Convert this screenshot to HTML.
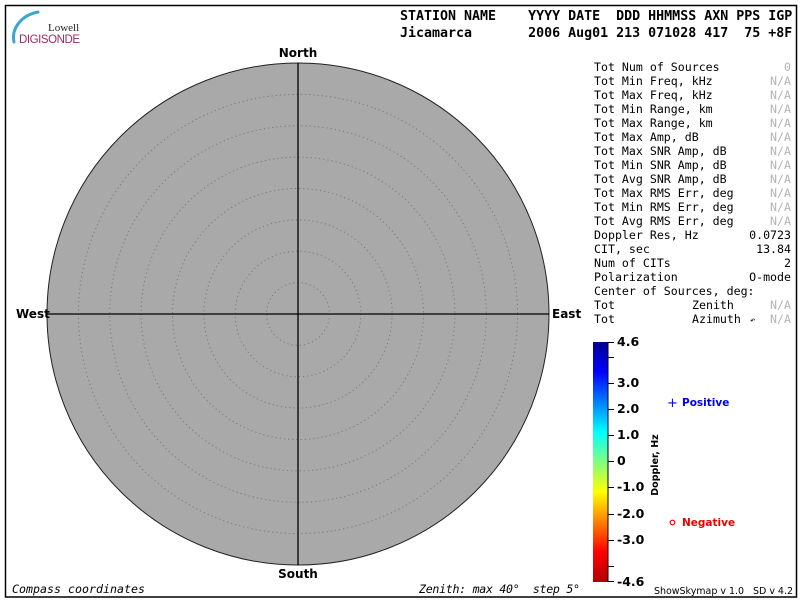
<!DOCTYPE html>
<html><head><meta charset="utf-8"><style>
html,body{margin:0;padding:0;background:#fff;}
svg{display:block;}
.mono{font-family:"DejaVu Sans Mono","Liberation Mono",monospace;}
.sans{font-family:"DejaVu Sans","Liberation Sans",sans-serif;}
</style></head><body>
<svg width="800" height="600" viewBox="0 0 800 600" xmlns="http://www.w3.org/2000/svg">
<defs>
<linearGradient id="jet" x1="0" y1="0" x2="0" y2="1">
<stop offset="0" stop-color="#00008f"/>
<stop offset="0.125" stop-color="#0000ff"/>
<stop offset="0.375" stop-color="#00ffff"/>
<stop offset="0.625" stop-color="#ffff00"/>
<stop offset="0.875" stop-color="#ff0000"/>
<stop offset="1" stop-color="#b00000"/>
</linearGradient>
</defs>
<rect x="0" y="0" width="800" height="600" fill="#fff"/>
<rect x="5.5" y="5.5" width="791" height="591.5" fill="none" stroke="#000" stroke-width="1.5"/>

<!-- logo -->
<path d="M14,42 C11,28 22,15 38,12" fill="none" stroke="#3aa7d0" stroke-width="3" stroke-linecap="round"/>
<text x="48" y="31" font-family="Liberation Serif, serif" font-size="11" fill="#222">Lowell</text>
<text x="19" y="43" font-family="Liberation Sans, sans-serif" font-size="11.5" fill="#9b2a5e" textLength="61">DIGISONDE</text>

<!-- header -->
<g class="mono" font-size="13.3" font-weight="bold" fill="#000">
<text x="400" y="20" xml:space="preserve">STATION NAME    YYYY DATE  DDD HHMMSS AXN PPS IGP</text>
<text x="400" y="37" xml:space="preserve">Jicamarca       2006 Aug01 213 071028 417  75 +8F</text>
</g>

<!-- sky map -->
<circle cx="298" cy="314" r="251" fill="#a9a9a9" stroke="#222" stroke-width="1"/>
<g fill="none" stroke="#7a7a7a" stroke-width="1" stroke-dasharray="1.2,3">
<circle cx="298" cy="314" r="31.4"/>
<circle cx="298" cy="314" r="62.8"/>
<circle cx="298" cy="314" r="94.1"/>
<circle cx="298" cy="314" r="125.5"/>
<circle cx="298" cy="314" r="156.9"/>
<circle cx="298" cy="314" r="188.3"/>
<circle cx="298" cy="314" r="219.6"/>
</g>
<line x1="298" y1="63" x2="298" y2="565" stroke="#000" stroke-width="1.3"/>
<line x1="47" y1="314" x2="549" y2="314" stroke="#000" stroke-width="1.3"/>
<g class="sans" font-size="12" font-weight="bold" fill="#000">
<text x="298" y="57" text-anchor="middle">North</text>
<text x="298" y="578" text-anchor="middle">South</text>
<text x="16" y="318">West</text>
<text x="552" y="318">East</text>
</g>

<!-- info panel -->
<g class="mono" font-size="11.6" fill="#000">
<text x="594" y="71">Tot Num of Sources</text>
<text x="594" y="85">Tot Min Freq, kHz</text>
<text x="594" y="99">Tot Max Freq, kHz</text>
<text x="594" y="113">Tot Min Range, km</text>
<text x="594" y="127">Tot Max Range, km</text>
<text x="594" y="141">Tot Max Amp, dB</text>
<text x="594" y="155">Tot Max SNR Amp, dB</text>
<text x="594" y="169">Tot Min SNR Amp, dB</text>
<text x="594" y="183">Tot Avg SNR Amp, dB</text>
<text x="594" y="197">Tot Max RMS Err, deg</text>
<text x="594" y="211">Tot Min RMS Err, deg</text>
<text x="594" y="225">Tot Avg RMS Err, deg</text>
<text x="594" y="239">Doppler Res, Hz</text>
<text x="594" y="253">CIT, sec</text>
<text x="594" y="267">Num of CITs</text>
<text x="594" y="281">Polarization</text>
<text x="594" y="295">Center of Sources, deg:</text>
<text x="594" y="309">Tot</text>
<text x="594" y="323">Tot</text>
<text x="692" y="309">Zenith</text>
<text x="692" y="323">Azimuth</text>
<text x="750" y="323" font-size="9">↶</text>
<g text-anchor="end">
<text x="791" y="239">0.0723</text>
<text x="791" y="253">13.84</text>
<text x="791" y="267">2</text>
<text x="791" y="281">O-mode</text>
</g>
<g text-anchor="end" fill="#b4b4b4">
<text x="791" y="71">0</text>
<text x="791" y="85">N/A</text>
<text x="791" y="99">N/A</text>
<text x="791" y="113">N/A</text>
<text x="791" y="127">N/A</text>
<text x="791" y="141">N/A</text>
<text x="791" y="155">N/A</text>
<text x="791" y="169">N/A</text>
<text x="791" y="183">N/A</text>
<text x="791" y="197">N/A</text>
<text x="791" y="211">N/A</text>
<text x="791" y="225">N/A</text>
<text x="791" y="309">N/A</text>
<text x="791" y="323">N/A</text>
</g>
</g>

<!-- colorbar -->
<rect x="593" y="342" width="15" height="240" fill="url(#jet)"/>
<g stroke="#000" stroke-width="1">
<line x1="608" y1="342" x2="608" y2="582"/>
<line x1="608" y1="342.5" x2="614" y2="342.5"/>
<line x1="608" y1="357.5" x2="614" y2="357.5"/>
<line x1="608" y1="383.5" x2="614" y2="383.5"/>
<line x1="608" y1="409.5" x2="614" y2="409.5"/>
<line x1="608" y1="435.5" x2="614" y2="435.5"/>
<line x1="608" y1="461.5" x2="614" y2="461.5"/>
<line x1="608" y1="487.5" x2="614" y2="487.5"/>
<line x1="608" y1="514.5" x2="614" y2="514.5"/>
<line x1="608" y1="540.5" x2="614" y2="540.5"/>
<line x1="608" y1="566.5" x2="614" y2="566.5"/>
<line x1="608" y1="581.5" x2="614" y2="581.5"/>
</g>
<g class="sans" font-size="12.5" font-weight="bold" fill="#000">
<text x="617" y="346">4.6</text>
<text x="617" y="387">3.0</text>
<text x="617" y="413">2.0</text>
<text x="617" y="439">1.0</text>
<text x="617" y="465">0</text>
<text x="617" y="491">-1.0</text>
<text x="617" y="518">-2.0</text>
<text x="617" y="544">-3.0</text>
<text x="617" y="586">-4.6</text>
</g>
<text class="sans" font-size="9.5" font-weight="bold" fill="#000" transform="translate(658,465) rotate(-90)" text-anchor="middle">Doppler, Hz</text>

<!-- legend -->
<g class="sans" font-size="10.5" font-weight="bold">
<text x="667" y="407" fill="#0000ff" font-weight="normal" font-size="13">+</text>
<text x="682" y="406" fill="#0000ee">Positive</text>
<circle cx="672.5" cy="522.5" r="2.3" fill="none" stroke="#ee0000" stroke-width="1.2"/>
<text x="682" y="526" fill="#ee0000">Negative</text>
</g>

<!-- footer -->
<g class="mono" font-size="11.6" font-style="italic" fill="#000">
<text x="12" y="593" textLength="133">Compass coordinates</text>
<text x="419" y="593" xml:space="preserve" textLength="161">Zenith: max 40°  step 5°</text>
</g>
<text class="sans" x="654" y="594" font-size="9.5" fill="#000" xml:space="preserve" textLength="139">ShowSkymap v 1.0   SD v 4.2</text>
</svg>
</body></html>
